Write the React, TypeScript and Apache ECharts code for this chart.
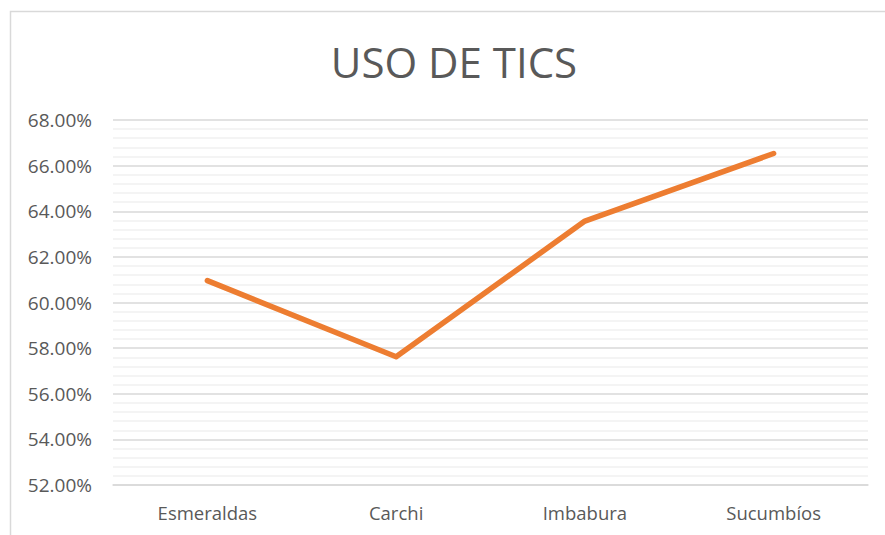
import React, { useEffect, useRef } from "react";
import * as echarts from "echarts";

const categories = ["Esmeraldas", "Carchi", "Imbabura", "Sucumbíos"];
const usoTics = [60.96, 57.62, 63.57, 66.53];
const yMin = 52;
const yMax = 68;
const yStep = 2;
const titleText = "USO DE TICS";

export default function App() {
  const ref = useRef<HTMLDivElement>(null);
  useEffect(() => {
    document.body.style.margin = "0";
    const chart = echarts.init(ref.current!, null, { renderer: "svg" });
    const font = "'Open Sans', Lato, sans-serif";
    chart.setOption({
      animation: false,
      backgroundColor: "#ffffff",
      graphic: [
        {
          type: "rect",
          shape: { x: 10.5, y: 11.5, width: 1000, height: 1000 },
          style: { fill: "none", stroke: "#D9D9D9", lineWidth: 1.5 },
          silent: true,
        },
        {
          type: "text",
          x: 454,
          y: 61,
          style: {
            text: titleText,
            fontFamily: font,
            fontSize: 42,
            fill: "#595959",
            textAlign: "center",
            textVerticalAlign: "middle",
          },
        },
      ],
      grid: { left: 113, right: 17, top: 120, bottom: 50, containLabel: false },
      xAxis: {
        type: "category",
        data: categories,
        boundaryGap: true,
        axisLine: { show: true, lineStyle: { color: "#D9D9D9", width: 1.5 } },
        axisTick: { show: false },
        axisLabel: {
          color: "#595959",
          fontFamily: font,
          fontSize: 18.5,
          margin: 18,
        },
      },
      yAxis: {
        type: "value",
        min: yMin,
        max: yMax,
        interval: yStep,
        axisLine: { show: false },
        axisTick: { show: false },
        axisLabel: {
          color: "#595959",
          fontFamily: font,
          fontSize: 19,
          margin: 21,
          formatter: (v: number) => v.toFixed(2) + "%",
        },
        splitLine: { show: true, lineStyle: { color: "#D9D9D9", width: 1.5 } },
        minorTick: { show: false, splitNumber: 5 },
        minorSplitLine: { show: true, lineStyle: { color: "#F0F0F0", width: 1.5 } },
      },
      series: [
        {
          type: "line",
          data: usoTics,
          symbol: "none",
          lineStyle: { color: "#ED7D31", width: 5.5, cap: "round", join: "round" },
          itemStyle: { color: "#ED7D31" },
        },
      ],
    });
    return () => chart.dispose();
  }, []);
  return <div ref={ref} style={{ width: 885, height: 535 }} />;
}
